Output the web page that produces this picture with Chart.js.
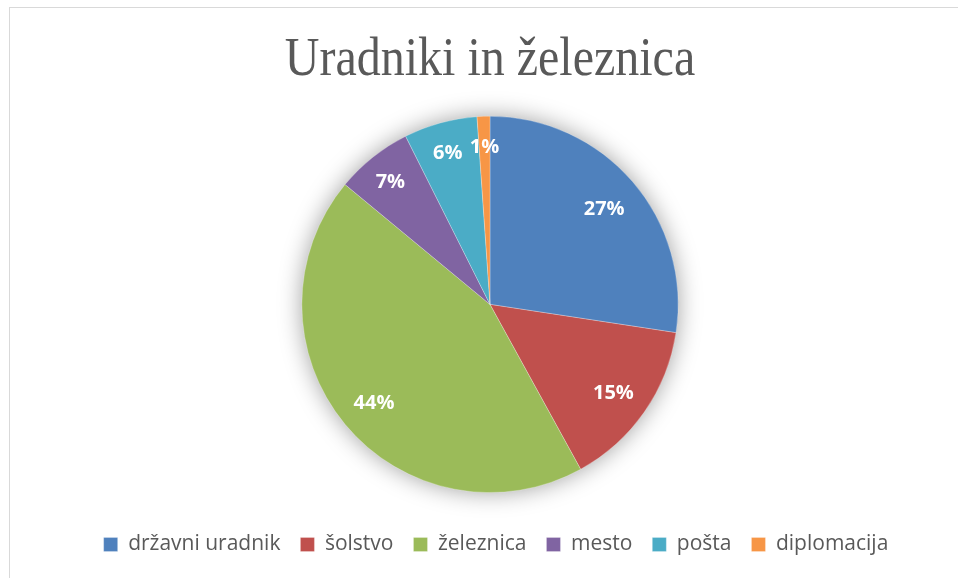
<!DOCTYPE html>
<html>
<head>
<meta charset="utf-8">
<script src="https://cdn.jsdelivr.net/npm/chart.js@4.4.1/dist/chart.umd.min.js"></script>
<style>
  html, body { margin: 0; padding: 0; background: #fff; }
  #wrap { position: absolute; left: 0; top: 0; width: 958px; height: 578px; }
  #frame { position: absolute; left: 9px; top: 7px; width: 960px; height: 580px;
           border-top: 1px solid #d9d9d9; border-left: 1px solid #d9d9d9; }
</style>
</head>
<body>
<div id="frame"></div>
<div id="wrap"><canvas id="chart" width="958" height="578"></canvas></div>
<script>
// data (share in %)
const categories = ['državni uradnik', 'šolstvo', 'železnica', 'mesto', 'pošta', 'diplomacija'];
const shares = [27.4, 14.6, 44.0, 6.6, 6.3, 1.1];
const colors = ['#4F81BD', '#C0504D', '#9BBB59', '#8064A2', '#4BACC6', '#F79646'];
const titleText = 'Uradniki in železnica';

// soft glow behind the pie
const pieShadow = {
    id: 'pieShadow',
    beforeDatasetsDraw(chart) {
        const arc = chart.getDatasetMeta(0).data[0];
        if (!arc) return;
        const ctx = chart.ctx;
        ctx.save();
        ctx.shadowColor = 'rgba(0,0,0,0.4)';
        ctx.shadowBlur = 24;
        ctx.beginPath();
        ctx.arc(arc.x, arc.y, arc.outerRadius - 1, 0, Math.PI * 2);
        ctx.fillStyle = '#fff';
        ctx.fill();
        ctx.restore();
    }
};

// percentage labels inside the slices
const sliceLabels = {
    id: 'sliceLabels',
    afterDatasetsDraw(chart) {
        const ctx = chart.ctx;
        const ds = chart.data.datasets[0].data;
        const total = ds.reduce((a, b) => a + b, 0);
        ctx.save();
        ctx.fillStyle = '#fff';
        ctx.font = 'bold 20px "Open Sans"';
        ctx.textAlign = 'center';
        ctx.textBaseline = 'middle';
        chart.getDatasetMeta(0).data.forEach((arc, i) => {
            const mid = (arc.startAngle + arc.endAngle) / 2;
            const r = arc.outerRadius * (ds[i] / total < 0.1 ? 0.85 : 0.8);
            const x = arc.x + Math.cos(mid) * r;
            const y = arc.y + Math.sin(mid) * r + 3;
            ctx.fillText(Math.round(ds[i] / total * 100) + '%', x, y);
        });
        ctx.restore();
    }
};

// title, a bit taller than the plain serif face
const tallTitle = {
    id: 'tallTitle',
    afterDraw(chart) {
        const ctx = chart.ctx;
        const cx = (chart.chartArea.left + chart.chartArea.right) / 2;
        ctx.save();
        ctx.translate(cx, 75);
        ctx.scale(1, 1.15);
        ctx.fillStyle = '#595959';
        ctx.font = '48px "Liberation Serif"';
        ctx.textAlign = 'center';
        ctx.textBaseline = 'alphabetic';
        ctx.fillText(titleText, 0, 0);
        ctx.restore();
    }
};

// legend sits a few px right of the pie centre in the original
const legendNudge = {
    id: 'legendNudge',
    afterUpdate(chart) {
        chart.legend.left += 6;
        chart.legend.right += 6;
    }
};

new Chart(document.getElementById('chart'), {
    type: 'pie',
    data: {
        labels: categories,
        datasets: [{
            data: shares,
            backgroundColor: colors,
            borderColor: 'rgba(255,255,255,0.5)',
            borderWidth: 0.5
        }]
    },
    options: {
        responsive: false,
        animation: false,
        layout: { padding: { left: 22, right: 0, top: 116, bottom: 13 } },
        plugins: {
            title: { display: false },
            legend: {
                position: 'bottom',
                title: { display: true, text: ' ', font: { size: 1 }, padding: 10 },
                labels: {
                    color: '#595959',
                    font: { family: '"Open Sans"', size: 21 },
                    boxWidth: 14,
                    boxHeight: 14,
                    padding: 20
                }
            },
            tooltip: { enabled: false }
        }
    },
    plugins: [pieShadow, sliceLabels, tallTitle, legendNudge]
});
</script>
</body>
</html>
